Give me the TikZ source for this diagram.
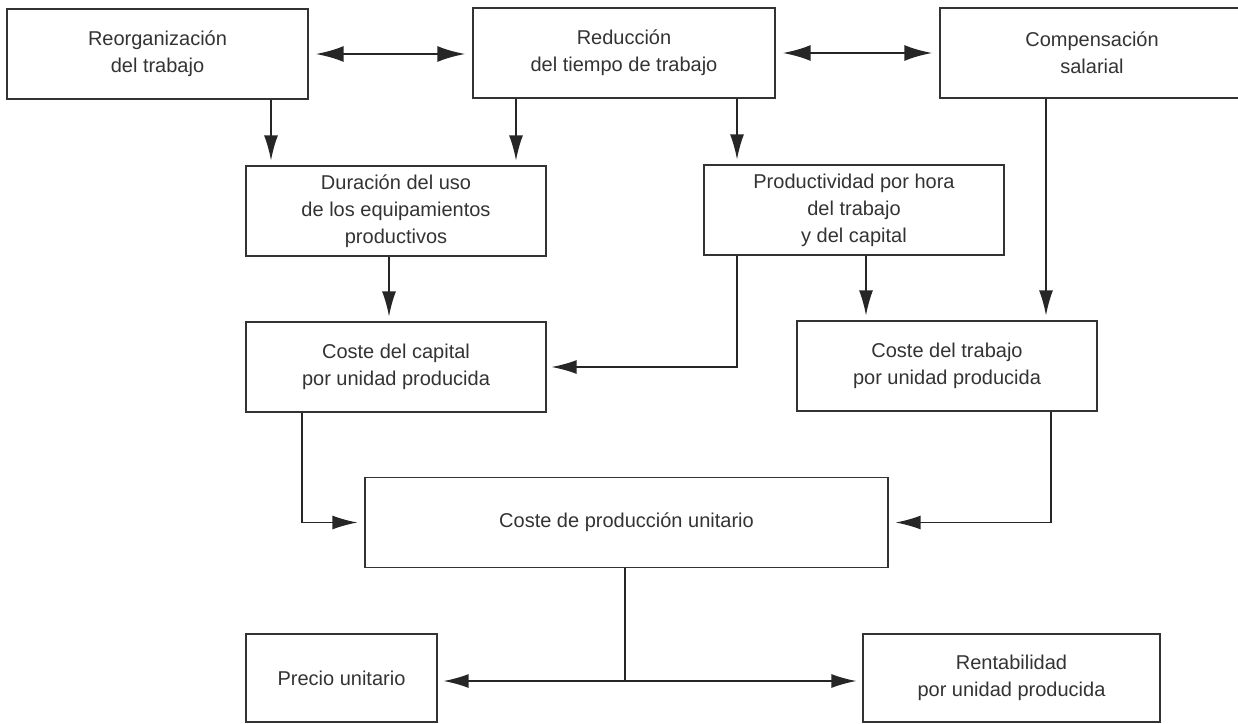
\documentclass[tikz,border=0pt]{standalone}
\usepackage{fontspec}
\setmainfont{Liberation Sans}
\usetikzlibrary{arrows.meta}
\tikzset{caja/.style={draw=black!80, line width=1.3pt, align=center, inner sep=0pt,
                      minimum width=300pt, minimum height=90pt, text=black!80,
                      font=\fontsize{20}{27}\selectfont},
         flecha/.style={draw=black!85, line width=1.4pt, -{Latex[length=25pt,width=14pt]}, shorten >=5pt},
         doble/.style={draw=black!85, line width=2.6pt, {Latex[length=28pt,width=16pt]}-{Latex[length=28pt,width=16pt]},
                       shorten >=7pt, shorten <=7pt}}

\begin{document}
\begin{tikzpicture}[x=1pt, y=-1pt]
                    \useasboundingbox (0,0) rectangle (1238,723);

                    \node[caja, minimum width=301pt] (reorg) at (157.5,54) {Reorganización\\del trabajo};
                    \node[caja, minimum width=302pt] (reduc) at (624,53) {Reducción\\del tiempo de trabajo};
                    \node[caja, minimum width=304pt] (comp) at (1092,53) {Compensación\\salarial};

                    \node[caja] (dur) at (396,211) {Duración del uso\\de los equipamientos\\productivos};
                    \node[caja] (prod) at (854,210) {Productividad por hora\\del trabajo\\y del capital};

                    \node[caja] (capital) at (396,367) {Coste del capital\\por unidad producida};
                    \node[caja] (trabajo) at (947,366) {Coste del trabajo\\por unidad producida};

                    \node[caja, minimum width=523pt] (coste) at (626.5,522.5) {Coste de producción unitario};

                    \node[caja, minimum width=191pt, minimum height=88pt] (precio) at (341.5,678) {Precio unitario};
                    \node[caja, minimum width=297pt, minimum height=88pt] (rentab) at (1011.5,678) {Rentabilidad\\por unidad producida};

                    % columnas de las flechas
                    \coordinate (xa) at (271,0);
                    \coordinate (xb) at (516,0);
                    \coordinate (xc) at (737,0);
                    \coordinate (xd) at (1046,0);
                    \coordinate (xe) at (389,0);
                    \coordinate (xf) at (866,0);
                    \coordinate (xg) at (302,0);
                    \coordinate (xh) at (1051,0);
                    \coordinate (xi) at (625,0);
                    \coordinate (split) at (625,681);

                    \draw[doble] (reorg.east) -- (reorg.east -| reduc.west);
                    \draw[doble] (reduc.east) -- (reduc.east -| comp.west);

                    \draw[flecha] (reorg.south -| xa) -- (dur.north -| xa);
                    \draw[flecha] (reduc.south -| xb) -- (dur.north -| xb);
                    \draw[flecha] (reduc.south -| xc) -- (prod.north -| xc);
                    \draw[flecha] (comp.south -| xd) -- (trabajo.north -| xd);

                    \draw[flecha] (dur.south -| xe) -- (capital.north -| xe);
                    \draw[flecha] (prod.south -| xc) |- (capital.east);
                    \draw[flecha] (prod.south -| xf) -- (trabajo.north -| xf);

                    \draw[flecha, shorten >=7pt] (capital.south -| xg) |- (coste.west);
                    \draw[flecha, shorten >=7pt] (trabajo.south -| xh) |- (coste.east);

                    \draw[draw=black!85, line width=1.4pt] (coste.south -| xi) -- (split);
                    \draw[flecha, shorten >=6pt] (split) -- (split -| precio.east);
                    \draw[flecha, shorten >=6pt] (split) -- (split -| rentab.west);

                 \end{tikzpicture}
\end{document}
